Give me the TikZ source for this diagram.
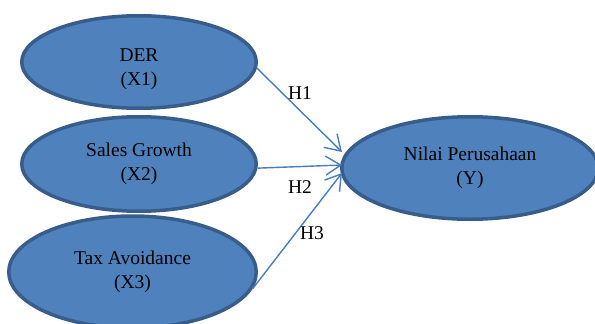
\documentclass[tikz,border=0pt]{standalone}
\usepackage{fontspec}
\setmainfont{Liberation Serif}
\usetikzlibrary{shapes.geometric,arrows.meta}
\definecolor{efill}{HTML}{4F81BD}
\definecolor{edraw}{HTML}{385D8A}
\definecolor{arrowc}{HTML}{4A7EBB}
\begin{document}
\begin{tikzpicture}[x=1pt,y=-1pt,
  var/.style={ellipse,fill=efill,draw=edraw,line width=3.5pt,inner sep=0pt,
    align=center,font=\fontsize{19.5}{23.5}\selectfont},
  link/.style={draw=arrowc,line width=1.4pt,-{Straight Barb[length=15pt,width=19pt]}},
  hyp/.style={font=\fontsize{19.5}{23.5}\selectfont,inner sep=0pt}]
\useasboundingbox (0,0) rectangle (595,324);
\node[var,minimum width=234.5pt,minimum height=92.5pt] (x1) at (139,62) {\rule{0pt}{27pt}DER\\(X1)};
\node[var,minimum width=234.5pt,minimum height=94.5pt] (x2) at (139,164) {Sales Growth\\(X2)};
\node[var,minimum width=247.5pt,minimum height=112pt] (x3) at (132.5,272) {Tax Avoidance\\(X3)};
\node[var,minimum width=256.5pt,minimum height=102.5pt] (y) at (470,168) {Nilai Perusahaan\\(Y)};
\draw[link] (x1.-3) -- ([xshift=2pt,yshift=16pt]y.west);
\draw[link] (x2.-2) -- ([xshift=2pt,yshift=3pt]y.west);
\draw[link] (x3.-8) -- ([xshift=2pt,yshift=-5pt]y.west);
\node[hyp] (h1) at (300,93) {H1};
\node[hyp] (h2) at (300,187) {H2};
\node[hyp] (h3) at (312,233) {H3};
\end{tikzpicture}
\end{document}
